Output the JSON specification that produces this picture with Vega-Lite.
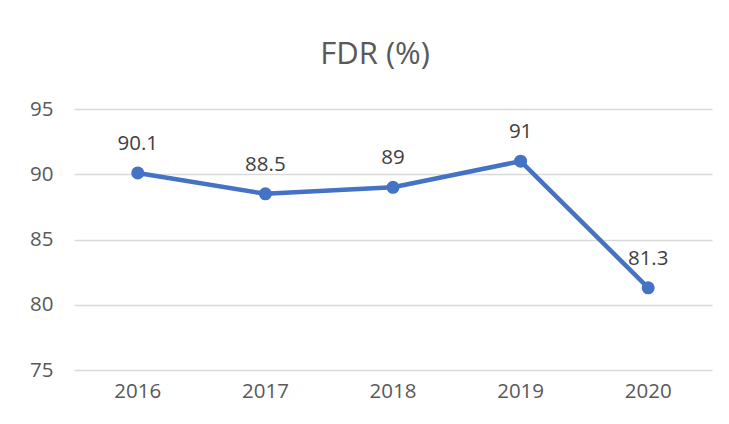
{
  "$schema": "https://vega.github.io/schema/vega-lite/v6.json",
  "autosize": "none",
  "width": 638,
  "height": 261,
  "padding": {"left": 74, "top": 109, "right": 17, "bottom": 54},
  "background": "white",
  "title": {
    "text": "FDR (%)",
    "font": "Open Sans",
    "fontSize": 31,
    "fontWeight": "normal",
    "color": "#595959",
    "anchor": "middle",
    "dx": -18,
    "offset": 28
  },
  "config": {
    "view": {"stroke": null},
    "font": "Open Sans"
  },
  "data": {
    "values": [
      {"year": "2016", "fdr": 90.1},
      {"year": "2017", "fdr": 88.5},
      {"year": "2018", "fdr": 89},
      {"year": "2019", "fdr": 91},
      {"year": "2020", "fdr": 81.3}
    ]
  },
  "encoding": {
    "x": {
      "field": "year",
      "type": "ordinal",
      "scale": {"type": "band", "paddingInner": 0, "paddingOuter": 0},
      "axis": {
        "title": null,
        "labelAngle": 0,
        "domain": false,
        "ticks": false,
        "labelFont": "Open Sans",
        "labelFontSize": 20.5,
        "labelColor": "#595959",
        "labelPadding": 11
      }
    },
    "y": {
      "field": "fdr",
      "type": "quantitative",
      "scale": {"domain": [75, 95], "nice": false, "zero": false},
      "axis": {
        "title": null,
        "values": [75, 80, 85, 90, 95],
        "domain": false,
        "ticks": false,
        "gridColor": "#d9d9d9",
        "gridWidth": 1.5,
        "labelFont": "Open Sans",
        "labelFontSize": 20.5,
        "labelColor": "#595959",
        "labelPadding": 21
      }
    }
  },
  "layer": [
    {
      "mark": {"type": "line", "color": "#4472C4", "strokeWidth": 4.5, "strokeCap": "round", "strokeJoin": "round"}
    },
    {
      "mark": {"type": "point", "filled": true, "color": "#4472C4", "opacity": 1, "size": 170, "shape": "circle"}
    },
    {
      "mark": {"type": "text", "font": "Open Sans", "fontSize": 20.5, "color": "#404040", "baseline": "alphabetic", "dy": -23},
      "encoding": {"text": {"field": "fdr", "type": "quantitative"}}
    }
  ]
}
